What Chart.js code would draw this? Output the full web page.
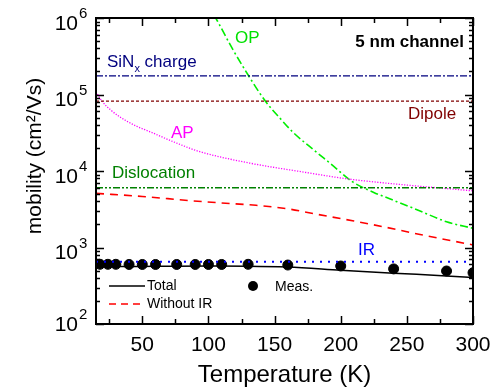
<!DOCTYPE html>
<html>
<head>
<meta charset="utf-8">
<script src="https://cdn.jsdelivr.net/npm/chart.js@4/dist/chart.umd.min.js"></script>
<style>
  html, body { margin: 0; padding: 0; background: #fff; }
  #wrap { width: 500px; height: 391px; }
</style>
</head>
<body>
<div id="wrap"><canvas id="mob" width="500" height="391"></canvas></div>
<script>
// Values (temperature in K, mobility in cm^2/Vs)
const tempMeas = [18, 24, 30, 40, 50, 60, 76, 90, 100, 110, 130, 160, 200, 240, 280, 300];
const muMeas   = [603, 603, 603, 600, 600, 600, 600, 600, 600, 600, 603, 590, 573, 525, 493, 468];

const tempTotal = [15, 30, 50, 75, 100, 130, 160, 200, 240, 280, 300];
const muTotal   = [560, 563, 566, 570, 572, 570, 555, 505, 462, 425, 405];

const tempNoIR = [15, 50, 86, 110, 136, 161, 181, 210, 232, 260, 300];
const muNoIR   = [5100, 4650, 4100, 3820, 3560, 3180, 2740, 2220, 1870, 1480, 1080];

const tempAP = [15, 20, 26, 33, 45, 56, 75, 93, 131, 170, 206, 250, 300];
const muAP   = [108000, 80000, 63000, 51000, 39000, 32500, 23500, 18000, 12700, 9800, 7850, 6550, 5500];

const tempOP = [104, 107, 118, 130, 143, 155, 164, 180, 192, 209, 225, 239, 260, 280, 300];
const muOP   = [1100000, 900000, 400000, 180000, 82000, 47000, 32000, 18600, 12600, 7200, 5250, 4200, 3000, 2170, 1780];

// constant limits (drawn across the whole range)
const tempRange = [15, 300];
const muSiN = 175000;
const muDipole = 82000;
const muDisl = 6050;
const muIR = 653;

const xMajorTicks = [50, 100, 150, 200, 250, 300];
const xMinorTicks = [25, 75, 125, 175, 225, 275];
const yDecades = [2, 3, 4, 5, 6];

const pts = (xs, ys) => xs.map((x, i) => ({ x: x, y: ys[i] }));
const flat = (v) => tempRange.map(t => ({ x: t, y: v }));

function lineSet(data, color, dash, width, smooth) {
  return {
    data: data,
    borderColor: color,
    borderWidth: width,
    borderDash: dash,
    pointRadius: 0,
    fill: false,
    cubicInterpolationMode: smooth ? 'monotone' : 'default'
  };
}

// text, frame, inward ticks and log labels
const decor = {
  id: 'decor',
  afterDraw(chart) {
    const ctx = chart.ctx;
    const ca = chart.chartArea;
    const xs = chart.scales.x, ys = chart.scales.y;
    ctx.save();

    // frame
    ctx.strokeStyle = '#000';
    ctx.lineWidth = 2;
    ctx.strokeRect(ca.left, ca.top, ca.right - ca.left, ca.bottom - ca.top);

    // x ticks (top and bottom, pointing in)
    ctx.lineWidth = 1.5;
    const xtick = (v, len) => {
      const px = Math.round(xs.getPixelForValue(v)) + 0.5;
      ctx.beginPath();
      ctx.moveTo(px, ca.bottom); ctx.lineTo(px, ca.bottom - len);
      ctx.moveTo(px, ca.top); ctx.lineTo(px, ca.top + len);
      ctx.stroke();
    };
    xMajorTicks.forEach(v => xtick(v, 8));
    xMinorTicks.forEach(v => xtick(v, 5));

    // y ticks (left and right)
    const ytick = (v, len) => {
      const py = Math.round(ys.getPixelForValue(v)) + 0.5;
      ctx.beginPath();
      ctx.moveTo(ca.left, py); ctx.lineTo(ca.left + len, py);
      ctx.moveTo(ca.right, py); ctx.lineTo(ca.right - len, py);
      ctx.stroke();
    };
    yDecades.forEach(d => {
      ytick(Math.pow(10, d), 8);
      if (d < 6) {
        for (let m = 2; m <= 9; m++) ytick(m * Math.pow(10, d), 4);
      }
    });

    ctx.fillStyle = '#000';
    ctx.textBaseline = 'middle';

    // x tick labels
    ctx.font = '21px "Liberation Sans", Arial, sans-serif';
    ctx.textAlign = 'center';
    xMajorTicks.forEach(v => {
      ctx.fillText(String(v), xs.getPixelForValue(v), ca.bottom + 21);
    });

    // y tick labels: 10^n
    yDecades.forEach(d => {
      const py = ys.getPixelForValue(Math.pow(10, d));
      const off = d === 2 ? 1 : 6;
      ctx.font = '21px "Liberation Sans", Arial, sans-serif';
      ctx.textAlign = 'right';
      ctx.fillText('10', ca.left - 18, py + off);
      ctx.font = '15px "Liberation Sans", Arial, sans-serif';
      ctx.textAlign = 'left';
      ctx.fillText(String(d), ca.left - 17, py + off - 10);
    });

    // axis titles
    ctx.font = '24px "Liberation Sans", Arial, sans-serif';
    ctx.textAlign = 'center';
    ctx.fillText('Temperature (K)', (ca.left + ca.right) / 2, 375);

    ctx.save();
    ctx.translate(35, 156);
    ctx.rotate(-Math.PI / 2);
    ctx.font = '21px "Liberation Sans", Arial, sans-serif';
    ctx.textAlign = 'center';
    ctx.fillText('mobility (cm\u00B2/Vs)', 0, 0);
    ctx.restore();

    // curve labels
    const lab = (txt, x, y, color, font) => {
      ctx.font = font || '17px "Liberation Sans", Arial, sans-serif';
      ctx.fillStyle = color;
      ctx.textAlign = 'left';
      ctx.fillText(txt, x, y);
    };
    // SiNx with subscript
    ctx.font = '17px "Liberation Sans", Arial, sans-serif';
    ctx.fillStyle = '#00007f';
    ctx.textAlign = 'left';
    ctx.fillText('SiN', 107, 62);
    let w = ctx.measureText('SiN').width;
    ctx.font = '11px "Liberation Sans", Arial, sans-serif';
    ctx.fillText('x', 107 + w, 69);
    let w2 = ctx.measureText('x').width;
    ctx.font = '17px "Liberation Sans", Arial, sans-serif';
    ctx.fillText(' charge', 107 + w + w2, 62);

    lab('OP', 235, 38, '#00e000');
    lab('Dipole', 408, 114, '#800000');
    lab('AP', 171, 133, '#ff00ff');
    lab('Dislocation', 112, 173, '#008000');
    lab('IR', 358, 250, '#0000ff');

    ctx.font = 'bold 17px "Liberation Sans", Arial, sans-serif';
    ctx.fillStyle = '#000';
    ctx.textAlign = 'right';
    ctx.fillText('5 nm channel', 464, 42);

    // legend
    ctx.font = '14px "Liberation Sans", Arial, sans-serif';
    ctx.textAlign = 'left';
    ctx.strokeStyle = '#000';
    ctx.lineWidth = 1.5;
    ctx.beginPath(); ctx.moveTo(109, 286); ctx.lineTo(145, 286); ctx.stroke();
    ctx.fillStyle = '#000';
    ctx.fillText('Total', 147, 286);
    ctx.strokeStyle = '#ff0000';
    ctx.setLineDash([7, 5]);
    ctx.beginPath(); ctx.moveTo(109, 304); ctx.lineTo(145, 304); ctx.stroke();
    ctx.setLineDash([]);
    ctx.fillText('Without IR', 147, 304);
    ctx.beginPath(); ctx.arc(253, 286, 5, 0, Math.PI * 2); ctx.fill();
    ctx.fillText('Meas.', 275, 287);

    ctx.restore();
  }
};

new Chart(document.getElementById('mob').getContext('2d'), {
  type: 'line',
  data: {
    datasets: [
      lineSet(flat(muSiN), '#00007f', [7, 2, 2, 2], 1.3, false),
      lineSet(flat(muDipole), '#800000', [3, 2], 1.3, false),
      lineSet(flat(muDisl), '#008000', [7, 2, 2, 2, 2, 2], 1.5, false),
      lineSet(flat(muIR), '#0000ff', [2, 6], 2, false),
      lineSet(pts(tempAP, muAP), '#ff00ff', [1.2, 1.5], 1.3, true),
      lineSet(pts(tempOP, muOP), '#00ee00', [8, 3, 2, 3], 1.6, true),
      lineSet(pts(tempNoIR, muNoIR), '#ff0000', [8, 6], 1.6, true),
      lineSet(pts(tempTotal, muTotal), '#000000', [], 1.5, true),
      {
        data: pts(tempMeas, muMeas),
        showLine: false,
        pointRadius: 5,
        pointBackgroundColor: '#000',
        pointBorderColor: '#000',
        pointBorderWidth: 1
      }
    ]
  },
  options: {
    responsive: false,
    animation: false,
    layout: { padding: { left: 96, right: 27, top: 18, bottom: 67 } },
    plugins: {
      legend: { display: false },
      tooltip: { enabled: false }
    },
    scales: {
      x: { type: 'linear', min: 15, max: 300, display: false },
      y: { type: 'logarithmic', min: 100, max: 1000000, display: false }
    }
  },
  plugins: [decor]
});
</script>
</body>
</html>
